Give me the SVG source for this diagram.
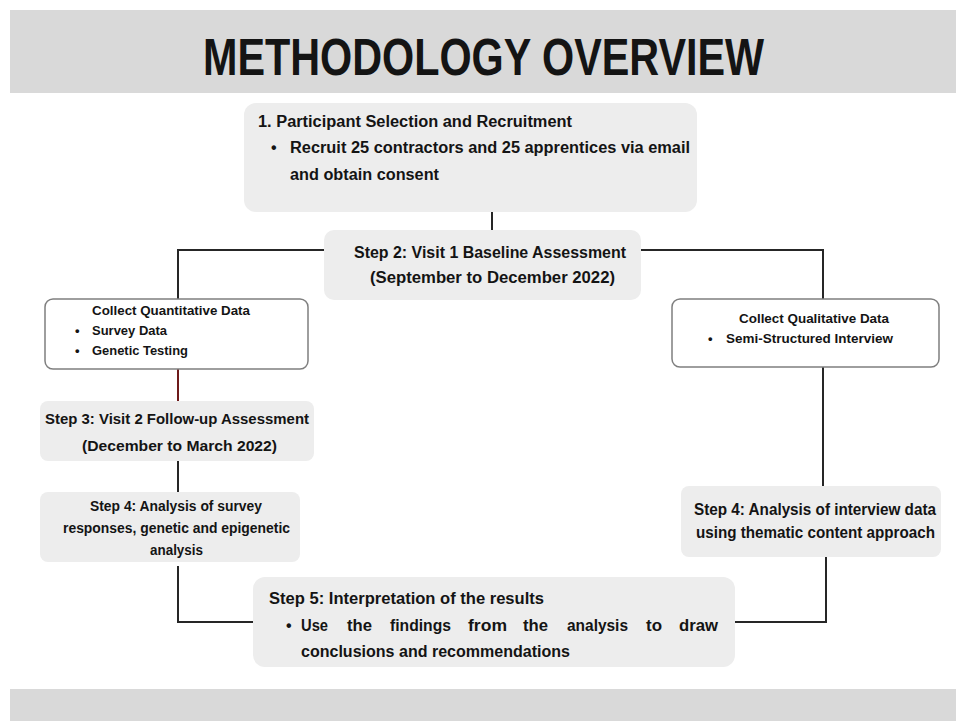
<svg xmlns="http://www.w3.org/2000/svg" width="956" height="721" viewBox="0 0 956 721">
<style>
  .band { fill: #d9d9d9; }
  .box { fill: #ededed; }
  .wbox { fill: #ffffff; stroke: #7f7f7f; stroke-width: 1.5; }
  .t { font-family: "Liberation Sans", Arial, sans-serif; font-weight: bold; fill: #141414; }
  .s16 { font-size: 16px; }
  .s15 { font-size: 15.5px; }
  .s14 { font-size: 14.5px; }
  .s12 { font-size: 13px; }
  .conn { fill: none; stroke: #262626; stroke-width: 2; }
  .red { stroke: #6e1a1a; }
</style>
<rect x="0" y="0" width="956" height="721" fill="#ffffff"/>

<g id="header">
  <rect class="band" x="10" y="10" width="946" height="83"/>
  <text class="t" x="203" y="75" font-size="51" fill="#000000" textLength="561" lengthAdjust="spacingAndGlyphs">METHODOLOGY OVERVIEW</text>
</g>
<g id="footer">
  <rect class="band" x="10" y="689" width="946" height="32"/>
</g>

<g id="connectors">
  <path class="conn" d="M492 212 V230"/>
  <path class="conn" d="M324 250 H178 V299"/>
  <path class="conn" d="M641 250 H823 V299"/>
  <path class="conn red" d="M178 369 V401"/>
  <path class="conn" d="M178 461 V492"/>
  <path class="conn" d="M178 566 V622 H253"/>
  <path class="conn" d="M823 367 V486"/>
  <path class="conn" d="M826 557 V622 H735"/>
</g>

<g id="step1">
  <rect class="box" x="244" y="103" width="453" height="109" rx="12"/>
  <text class="t s16" x="258" y="127" textLength="314" lengthAdjust="spacingAndGlyphs">1. Participant Selection and Recruitment</text>
  <text class="t s16" x="271" y="153">•</text>
  <text class="t s16" x="290" y="153" textLength="400" lengthAdjust="spacingAndGlyphs">Recruit 25 contractors and 25 apprentices via email</text>
  <text class="t s16" x="290" y="180" textLength="149" lengthAdjust="spacingAndGlyphs">and obtain consent</text>
</g>

<g id="step2">
  <rect class="box" x="324" y="230" width="317" height="70" rx="10"/>
  <text class="t s16" x="354" y="258" textLength="272" lengthAdjust="spacingAndGlyphs">Step 2: Visit 1 Baseline Assessment</text>
  <text class="t s16" x="370" y="283" textLength="245" lengthAdjust="spacingAndGlyphs">(September to December 2022)</text>
</g>

<g id="quantitative">
  <rect class="wbox" x="45" y="299" width="263" height="70" rx="8"/>
  <text class="t s12" x="92" y="315" textLength="158" lengthAdjust="spacingAndGlyphs">Collect Quantitative Data</text>
  <text class="t s12" x="75" y="335">•</text>
  <text class="t s12" x="92" y="335" textLength="75" lengthAdjust="spacingAndGlyphs">Survey Data</text>
  <text class="t s12" x="75" y="355">•</text>
  <text class="t s12" x="92" y="355" textLength="96" lengthAdjust="spacingAndGlyphs">Genetic Testing</text>
</g>

<g id="qualitative">
  <rect class="wbox" x="672" y="299" width="267" height="68" rx="8"/>
  <text class="t s12" x="739" y="323" textLength="150" lengthAdjust="spacingAndGlyphs">Collect Qualitative Data</text>
  <text class="t s12" x="708" y="343">•</text>
  <text class="t s12" x="726" y="343" textLength="167" lengthAdjust="spacingAndGlyphs">Semi-Structured Interview</text>
</g>

<g id="step3">
  <rect class="box" x="40" y="401" width="274" height="60" rx="8"/>
  <text class="t s15" x="45" y="424" textLength="264" lengthAdjust="spacingAndGlyphs">Step 3: Visit 2 Follow-up Assessment</text>
  <text class="t s15" x="82" y="451" textLength="195" lengthAdjust="spacingAndGlyphs">(December to March 2022)</text>
</g>

<g id="step4-quant">
  <rect class="box" x="40" y="492" width="260" height="70" rx="8"/>
  <text class="t s14" x="90" y="511" textLength="172" lengthAdjust="spacingAndGlyphs">Step 4: Analysis of survey</text>
  <text class="t s14" x="63" y="533" textLength="227" lengthAdjust="spacingAndGlyphs">responses, genetic and epigenetic</text>
  <text class="t s14" x="150" y="555" textLength="53" lengthAdjust="spacingAndGlyphs">analysis</text>
</g>

<g id="step4-qual">
  <rect class="box" x="681" y="486" width="260" height="71" rx="8"/>
  <text class="t s16" x="694" y="515" textLength="242" lengthAdjust="spacingAndGlyphs">Step 4: Analysis of interview data</text>
  <text class="t s16" x="696" y="538" textLength="239" lengthAdjust="spacingAndGlyphs">using thematic content approach</text>
</g>

<g id="step5">
  <rect class="box" x="253" y="577" width="482" height="90" rx="12"/>
  <text class="t s16" x="269" y="604" textLength="275" lengthAdjust="spacingAndGlyphs">Step 5: Interpretation of the results</text>
  <text class="t s16" x="286" y="631">•</text>
  <text class="t s16" y="631">
    <tspan x="301" textLength="27" lengthAdjust="spacingAndGlyphs">Use</tspan>
    <tspan x="347" textLength="25" lengthAdjust="spacingAndGlyphs">the</tspan>
    <tspan x="390" textLength="61" lengthAdjust="spacingAndGlyphs">findings</tspan>
    <tspan x="468" textLength="39" lengthAdjust="spacingAndGlyphs">from</tspan>
    <tspan x="523" textLength="25" lengthAdjust="spacingAndGlyphs">the</tspan>
    <tspan x="567" textLength="61" lengthAdjust="spacingAndGlyphs">analysis</tspan>
    <tspan x="646" textLength="16" lengthAdjust="spacingAndGlyphs">to</tspan>
    <tspan x="679" textLength="39" lengthAdjust="spacingAndGlyphs">draw</tspan>
  </text>
  <text class="t s16" x="301" y="657" textLength="269" lengthAdjust="spacingAndGlyphs">conclusions and recommendations</text>
</g>
</svg>
